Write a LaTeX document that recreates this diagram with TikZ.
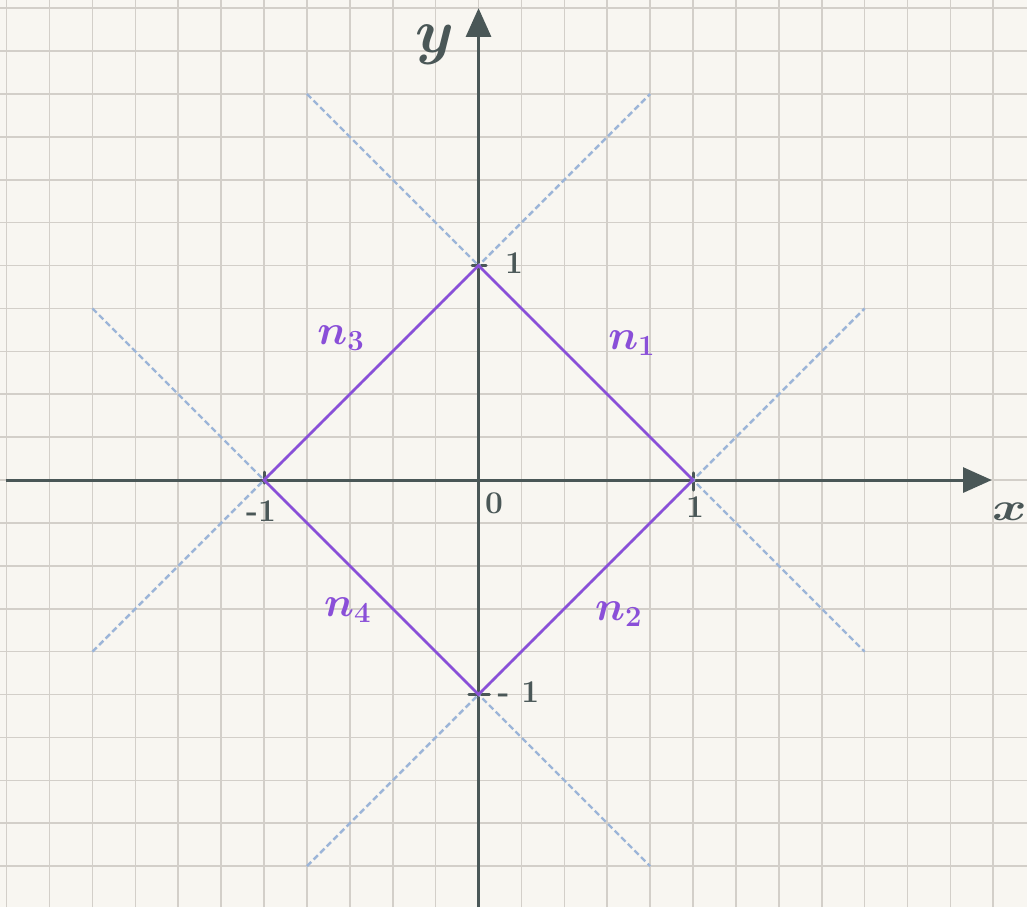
\documentclass[tikz,border=0pt]{standalone}
\usepackage{xcolor}
\usepackage{tikz}
\usetikzlibrary{arrows.meta, calc}
\definecolor{paper}{HTML}{F8F6F1}
\definecolor{gridgrey}{HTML}{D3CFC9}
\definecolor{axisslate}{HTML}{4A5757}
\definecolor{guideblue}{HTML}{9CB5D8}
\definecolor{normpurple}{HTML}{8A4FD8}

\begin{document}
\begin{tikzpicture}[x=5cm, y=5cm,
    axisline/.style={draw=axisslate, line width=2pt, -{Triangle[length=19pt, width=16.5pt]}},
    guide/.style={draw=guideblue, line width=1.6pt, dash pattern=on 4pt off 2.2pt},
    edge/.style={draw=normpurple, line width=1.8pt, line cap=round},
    tickmark/.style={draw=axisslate, line width=2pt, line cap=round},
    ticklabel/.style={text=axisslate, font=\fontsize{21}{22}\selectfont\bfseries, inner sep=0pt},
    normlabel/.style={text=normpurple, font=\fontsize{24}{26}\selectfont\boldmath, inner sep=0pt, scale=1.12}]
  \useasboundingbox[fill=paper] (-2.231,-1.991) rectangle (2.557,2.238);
  \draw[gridgrey, line width=1.1pt, step=0.2] (-2.231,-1.991) grid (2.557,2.238);

  % axes
  \coordinate (xstart) at (-2.203,0);
  \coordinate (xend) at (2.393,0);
  \coordinate (ystart) at (0,-1.991);
  \coordinate (yend) at (0,2.200);
  \draw[axisline] (xstart) -- (xend);
  \draw[axisline] (ystart) -- (yend);
  \node[text=axisslate, font=\fontsize{24}{26}\selectfont\boldmath, inner sep=0pt, xscale=1.4, yscale=1.05] (xlabel) at (2.475,-0.15) {$x$};
  \node[text=axisslate, font=\fontsize{24}{26}\selectfont\boldmath, inner sep=0pt, scale=1.65] (ylabel) at (-0.203,2.03) {$y$};

  % corners of the unit ball
  \coordinate (vt) at (0,1);
  \coordinate (vr) at (1,0);
  \coordinate (vb) at (0,-1);
  \coordinate (vl) at (-1,0);

  % ticks
  \draw[tickmark] ($(vt)+(-0.03,0)$) -- ($(vt)+(0.035,0)$);
  \draw[tickmark] ($(vb)+(-0.045,0)$) -- ($(vb)+(0.05,0)$);
  \draw[tickmark] ($(vl)+(0,0.037)$) -- ($(vl)+(0,-0.014)$);
  \draw[tickmark] ($(vr)+(0,0.033)$) -- ($(vr)+(0,-0.047)$);
  \node[ticklabel] (onetop) at (0.165,1.012) {1};
  \node[ticklabel] (oneleft) at (-1.014,-0.145) {-1};
  \node[ticklabel] (oneright) at (1.009,-0.126) {1};
  \node[ticklabel] (onebottom) at (0.186,-0.988) {- 1};
  \node[ticklabel] (origin) at (0.072,-0.107) {0};

  % extended lines
  \draw[guide] ($(vt)!-0.8!(vr)$) -- ($(vr)!-0.8!(vt)$);
  \draw[guide] ($(vl)!-0.8!(vt)$) -- ($(vt)!-0.8!(vl)$);
  \draw[guide] ($(vb)!-0.8!(vr)$) -- ($(vr)!-0.8!(vb)$);
  \draw[guide] ($(vl)!-0.8!(vb)$) -- ($(vb)!-0.8!(vl)$);

  % the four sides
  \draw[edge] (vt) -- (vr) -- (vb) -- (vl) -- cycle;
  \node[normlabel] (n1) at (0.715,0.639) {$n_1$};
  \node[normlabel] (n2) at (0.654,-0.625) {$n_2$};
  \node[normlabel] (n3) at (-0.641,0.660) {$n_3$};
  \node[normlabel] (n4) at (-0.610,-0.608) {$n_4$};
\end{tikzpicture}
\end{document}
